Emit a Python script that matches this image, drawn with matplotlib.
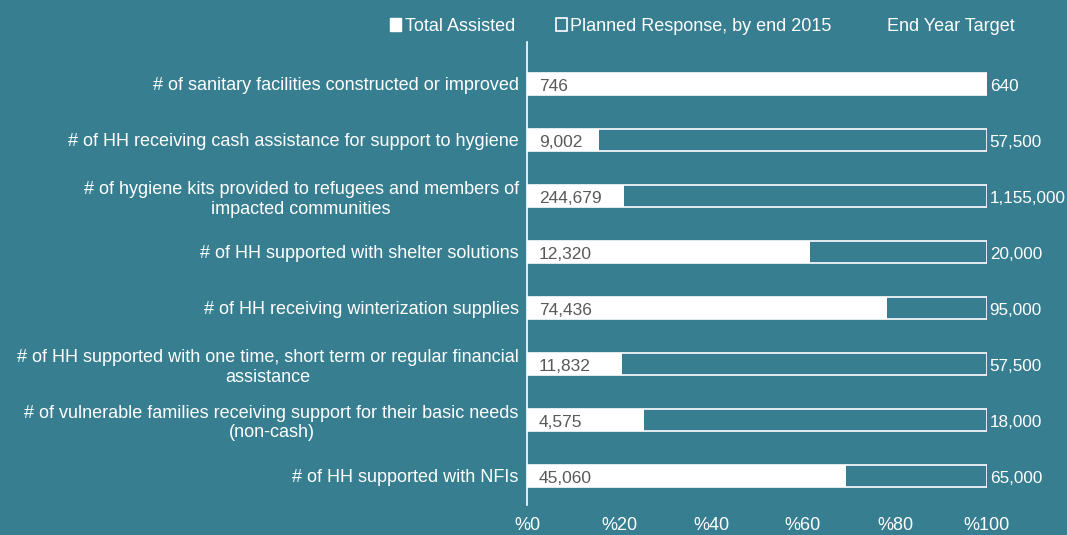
import matplotlib
matplotlib.use("Agg")
import matplotlib.pyplot as plt
from matplotlib.patches import Patch

BG = "#377e91"
plt.rcParams["font.family"] = ["Liberation Sans", "DejaVu Sans"]

indicators = [
    "# of sanitary facilities constructed or improved",
    "# of HH receiving cash assistance for support to hygiene",
    "# of hygiene kits provided to refugees and members of\nimpacted communities",
    "# of HH supported with shelter solutions",
    "# of HH receiving winterization supplies",
    "# of HH supported with one time, short term or regular financial\nassistance",
    "# of vulnerable families receiving support for their basic needs\n(non-cash)",
    "# of HH supported with NFIs",
]
total_assisted = [746, 9002, 244679, 12320, 74436, 11832, 4575, 45060]
end_year_target = [640, 57500, 1155000, 20000, 95000, 57500, 18000, 65000]
legend_labels = ["Total Assisted", "Planned Response, by end 2015", "End Year Target"]
x_ticks = [0, 0.2, 0.4, 0.6, 0.8, 1.0]
x_tick_labels = ["%0", "%20", "%40", "%60", "%80", "%100"]

fig = plt.figure(figsize=(10.67, 5.35), dpi=100, facecolor=BG)
ax = fig.add_axes([0.4939, 0.0561, 0.4311, 0.8654], facecolor=BG)

pos = list(range(len(indicators)))
share = [min(a / t, 1.0) for a, t in zip(total_assisted, end_year_target)]

ax.barh(pos, share, height=0.39, color="white", edgecolor="none")
ax.barh(pos, [1.0] * len(pos), height=0.39, color="none", edgecolor="white", linewidth=1.2)

fs = 13
for y, a, t in zip(pos, total_assisted, end_year_target):
    ax.text(0.026, y + 0.04, f"{a:,}", color="#595959", fontsize=12.5, va="center", ha="left")
    ax.text(1.006, y + 0.04, f"{t:,}", color="white", fontsize=12.3, va="center", ha="left")

ax.set_xlim(0, 1)
ax.set_ylim(7.52, -0.75)
ax.set_yticks(pos)
ax.set_yticklabels(indicators, color="white", fontsize=fs, multialignment="center")
ax.set_xticks(x_ticks)
ax.set_xticklabels(x_tick_labels, color="white", fontsize=fs)
ax.tick_params(axis="both", length=0)
ax.tick_params(axis="x", pad=9)
ax.tick_params(axis="y", pad=6)

for side in ["top", "right", "bottom"]:
    ax.spines[side].set_visible(False)
ax.spines["left"].set_color("white")
ax.spines["left"].set_linewidth(1.2)

handles = [
    Patch(facecolor="white", edgecolor="white"),
    Patch(facecolor="none", edgecolor="white", linewidth=1.2),
    Patch(facecolor="none", edgecolor="none"),
]
fig.legend(handles, legend_labels,
           loc="center left", bbox_to_anchor=(0.3655, 0.951), ncol=3, frameon=False,
           borderpad=0, borderaxespad=0,
           fontsize=fs, labelcolor="white", handlelength=0.6, handleheight=0.75,
           handletextpad=0.22, columnspacing=2.25)

fig.savefig("out.png", dpi=100, facecolor=BG)
